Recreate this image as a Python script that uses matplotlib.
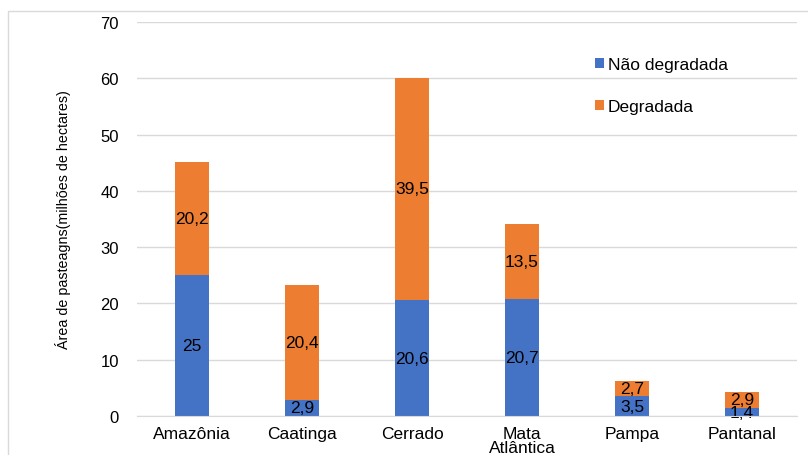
import matplotlib
matplotlib.use("Agg")
import matplotlib.pyplot as plt
from matplotlib import font_manager
from matplotlib.patches import Rectangle
import numpy as np

categories = ["Amazônia", "Caatinga", "Cerrado", "Mata\nAtlântica", "Pampa", "Pantanal"]
nao_degradada = [25, 2.9, 20.6, 20.7, 3.5, 1.4]
degradada = [20.2, 20.4, 39.5, 13.5, 2.7, 2.9]
yticks = [0, 10, 20, 30, 40, 50, 60, 70]

blue = "#4472C4"
orange = "#ED7D31"

plt.rcParams["font.family"] = ["Liberation Sans", "DejaVu Sans"]

# fonte estreita para o rótulo do eixo y, se houver
names = {f.name for f in font_manager.fontManager.ttflist}
narrow = "Liberation Sans Narrow" if "Liberation Sans Narrow" in names else "Liberation Sans"


def fmt(v):
    s = ("%.1f" % v).rstrip("0").rstrip(".")
    return s.replace(".", ",")


fig = plt.figure(figsize=(8.08, 4.56), dpi=100)
ax = fig.add_axes([137 / 808, 1 - 417 / 456, 660 / 808, 394 / 456])

x = np.arange(len(categories))
w = 0.31
ax.bar(x, nao_degradada, w, color=blue, label="Não degradada", zorder=3)
ax.bar(x, degradada, w, bottom=nao_degradada, color=orange, label="Degradada", zorder=3)

for i in range(len(categories)):
    ax.text(x[i], nao_degradada[i] / 2, fmt(nao_degradada[i]), ha="center", va="center",
            fontsize=12.5, zorder=4)
    ax.text(x[i], nao_degradada[i] + degradada[i] / 2, fmt(degradada[i]), ha="center",
            va="center", fontsize=12.5, zorder=4)

ax.set_xlim(-0.5, len(categories) - 0.5)
ax.set_ylim(0, 70)
ax.set_yticks(yticks)
ax.set_xticks(x)
ax.set_xticklabels(categories, fontsize=12.5, linespacing=0.95)
ax.tick_params(axis="y", labelsize=12, length=0, pad=13)
ax.tick_params(axis="x", length=0, pad=7)
ax.grid(axis="y", color="#D9D9D9", linewidth=1, zorder=0)
for s in ["top", "right", "left"]:
    ax.spines[s].set_visible(False)
ax.spines["bottom"].set_color("#D9D9D9")
ax.spines["bottom"].set_zorder(5)

ax.set_ylabel("Área de pasteagns(milhões de hectares)", fontsize=10.3,
              fontfamily=narrow, labelpad=21)

ax.legend(loc="upper left", bbox_to_anchor=(0.67, 0.95), frameon=False,
          fontsize=12.5, handlelength=0.55, handleheight=0.55, handletextpad=0.2,
          labelspacing=1.55)

# moldura do gráfico
fig.patches.append(Rectangle((8 / 808, -0.1), 1.1, 1.1 - 12 / 456,
                             transform=fig.transFigure, fill=False,
                             edgecolor="#D9D9D9", linewidth=1))

fig.savefig("out.png", dpi=100)
